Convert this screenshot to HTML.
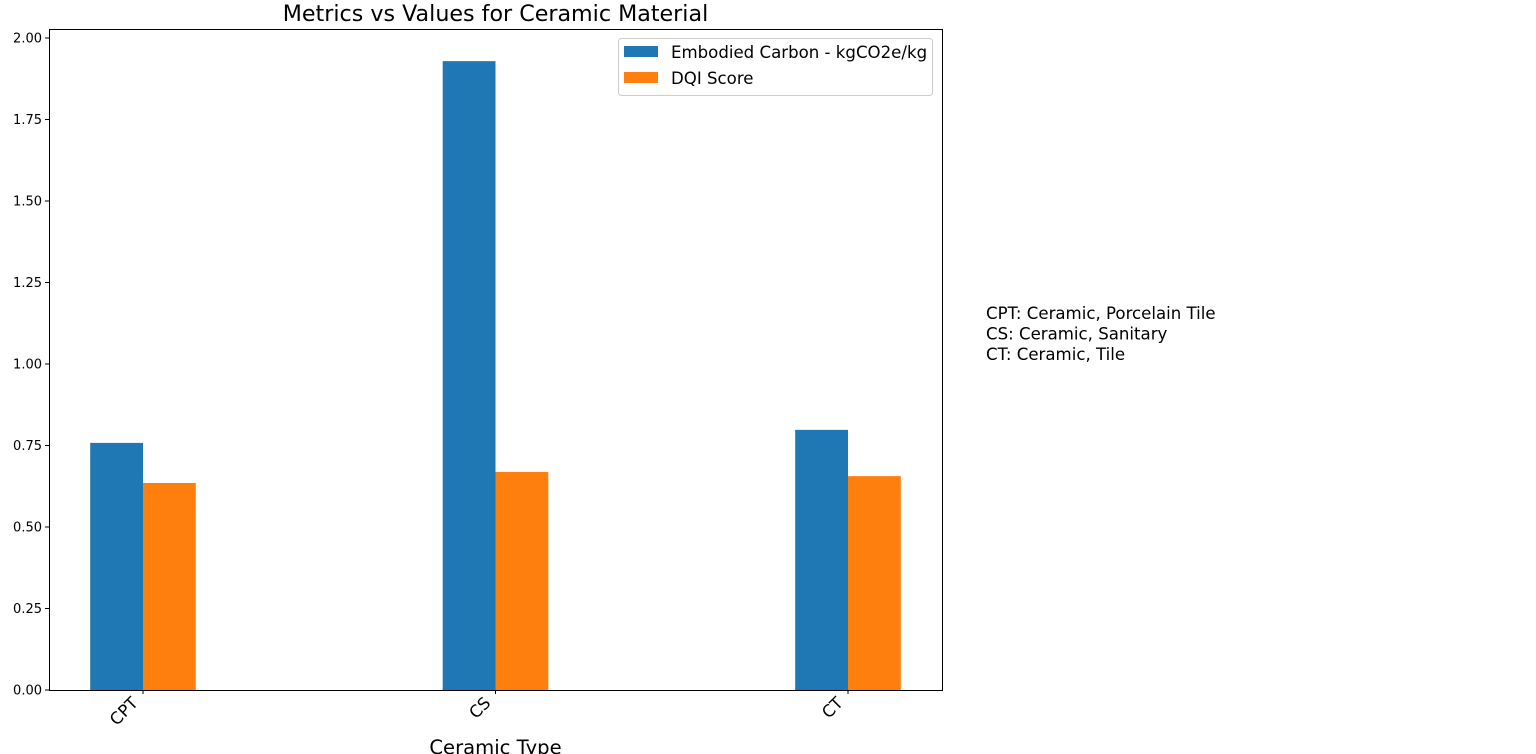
<!DOCTYPE html>
<html><head><meta charset="utf-8">
<style>
html,body{margin:0;padding:0;background:#fff;}
svg{display:block;font-family:"DejaVu Sans","Liberation Sans",sans-serif;}
</style></head>
<body>
<svg id="chart" width="1536" height="754"></svg>
<script>
const categories = ["CPT","CS","CT"];
const carbonValues = [0.758, 1.929, 0.798];
const dqiValues = [0.635, 0.669, 0.656];
const yTicks = [0, 0.25, 0.5, 0.75, 1.0, 1.25, 1.5, 1.75, 2.0];
const seriesNames = ["Embodied Carbon - kgCO2e/kg", "DQI Score"];
const notes = ["CPT: Ceramic, Porcelain Tile","CS: Ceramic, Sanitary","CT: Ceramic, Tile"];

const NS = "http://www.w3.org/2000/svg";
const svg = document.getElementById("chart");
const L=49, R=942, T=29, B=690;
const y = v => 690 - v*326;
const catStart = 143, catStep = 352.5, barW = 52.8;
const x = i => catStart + i*catStep;
function el(tag, attrs, parent){const e=document.createElementNS(NS,tag);for(const k in attrs)e.setAttribute(k,attrs[k]);(parent||svg).appendChild(e);return e;}

const title = el("text",{x:495.5,y:21,"text-anchor":"middle","font-size":"22.2"});
title.textContent="Metrics vs Values for Ceramic Material";



const colors=["#1f77b4","#ff7f0e"];
[carbonValues,dqiValues].forEach((vals,s)=>{
  vals.forEach((v,i)=>{
    const r=el("rect",{x:x(i)-barW+s*barW,y:y(v),width:barW,height:y(0)-y(v),fill:colors[s]});
    
    
  });
});

const frame=el("rect",{x:L+0.5,y:T+0.5,width:R-L,height:B-T,fill:"none",stroke:"#000","stroke-width":1});



yTicks.forEach(t=>{
  el("line",{x1:L-4,x2:L,y1:y(t),y2:y(t),stroke:"#000"});
  const tx=el("text",{x:L-7,y:y(t)+4.5,"text-anchor":"end","font-size":"13"});
  tx.textContent=t.toFixed(2);
  
  
});

categories.forEach((c,i)=>{
  el("line",{x1:x(i),x2:x(i),y1:B,y2:B+4,stroke:"#000"});
  const tx=el("text",{x:x(i)-4,y:704,"text-anchor":"end","font-size":"16.5",transform:`rotate(-45 ${x(i)-4} 704)`});
  tx.textContent=c;
  
  
});

const xt=el("text",{x:495.5,y:754,"text-anchor":"middle","font-size":"19.6"});
xt.textContent="Ceramic Type";



const lg=el("g",{});


el("rect",{x:618.5,y:38.5,width:314,height:57,rx:3,fill:"#fff","fill-opacity":0.8,stroke:"#ccc"},lg);
seriesNames.forEach((n,s)=>{
  el("rect",{x:624,y:46+s*26,width:34,height:11,fill:colors[s]},lg);
  const tx=el("text",{x:671,y:58+s*26,"font-size":"16.6"},lg);
  tx.textContent=n;
  
  
});

notes.forEach((n,i)=>{
  const tx=el("text",{x:986,y:319+i*20.5,"font-size":"16.6"});
  tx.textContent=n;
  
  
});
</script>
</body></html>
